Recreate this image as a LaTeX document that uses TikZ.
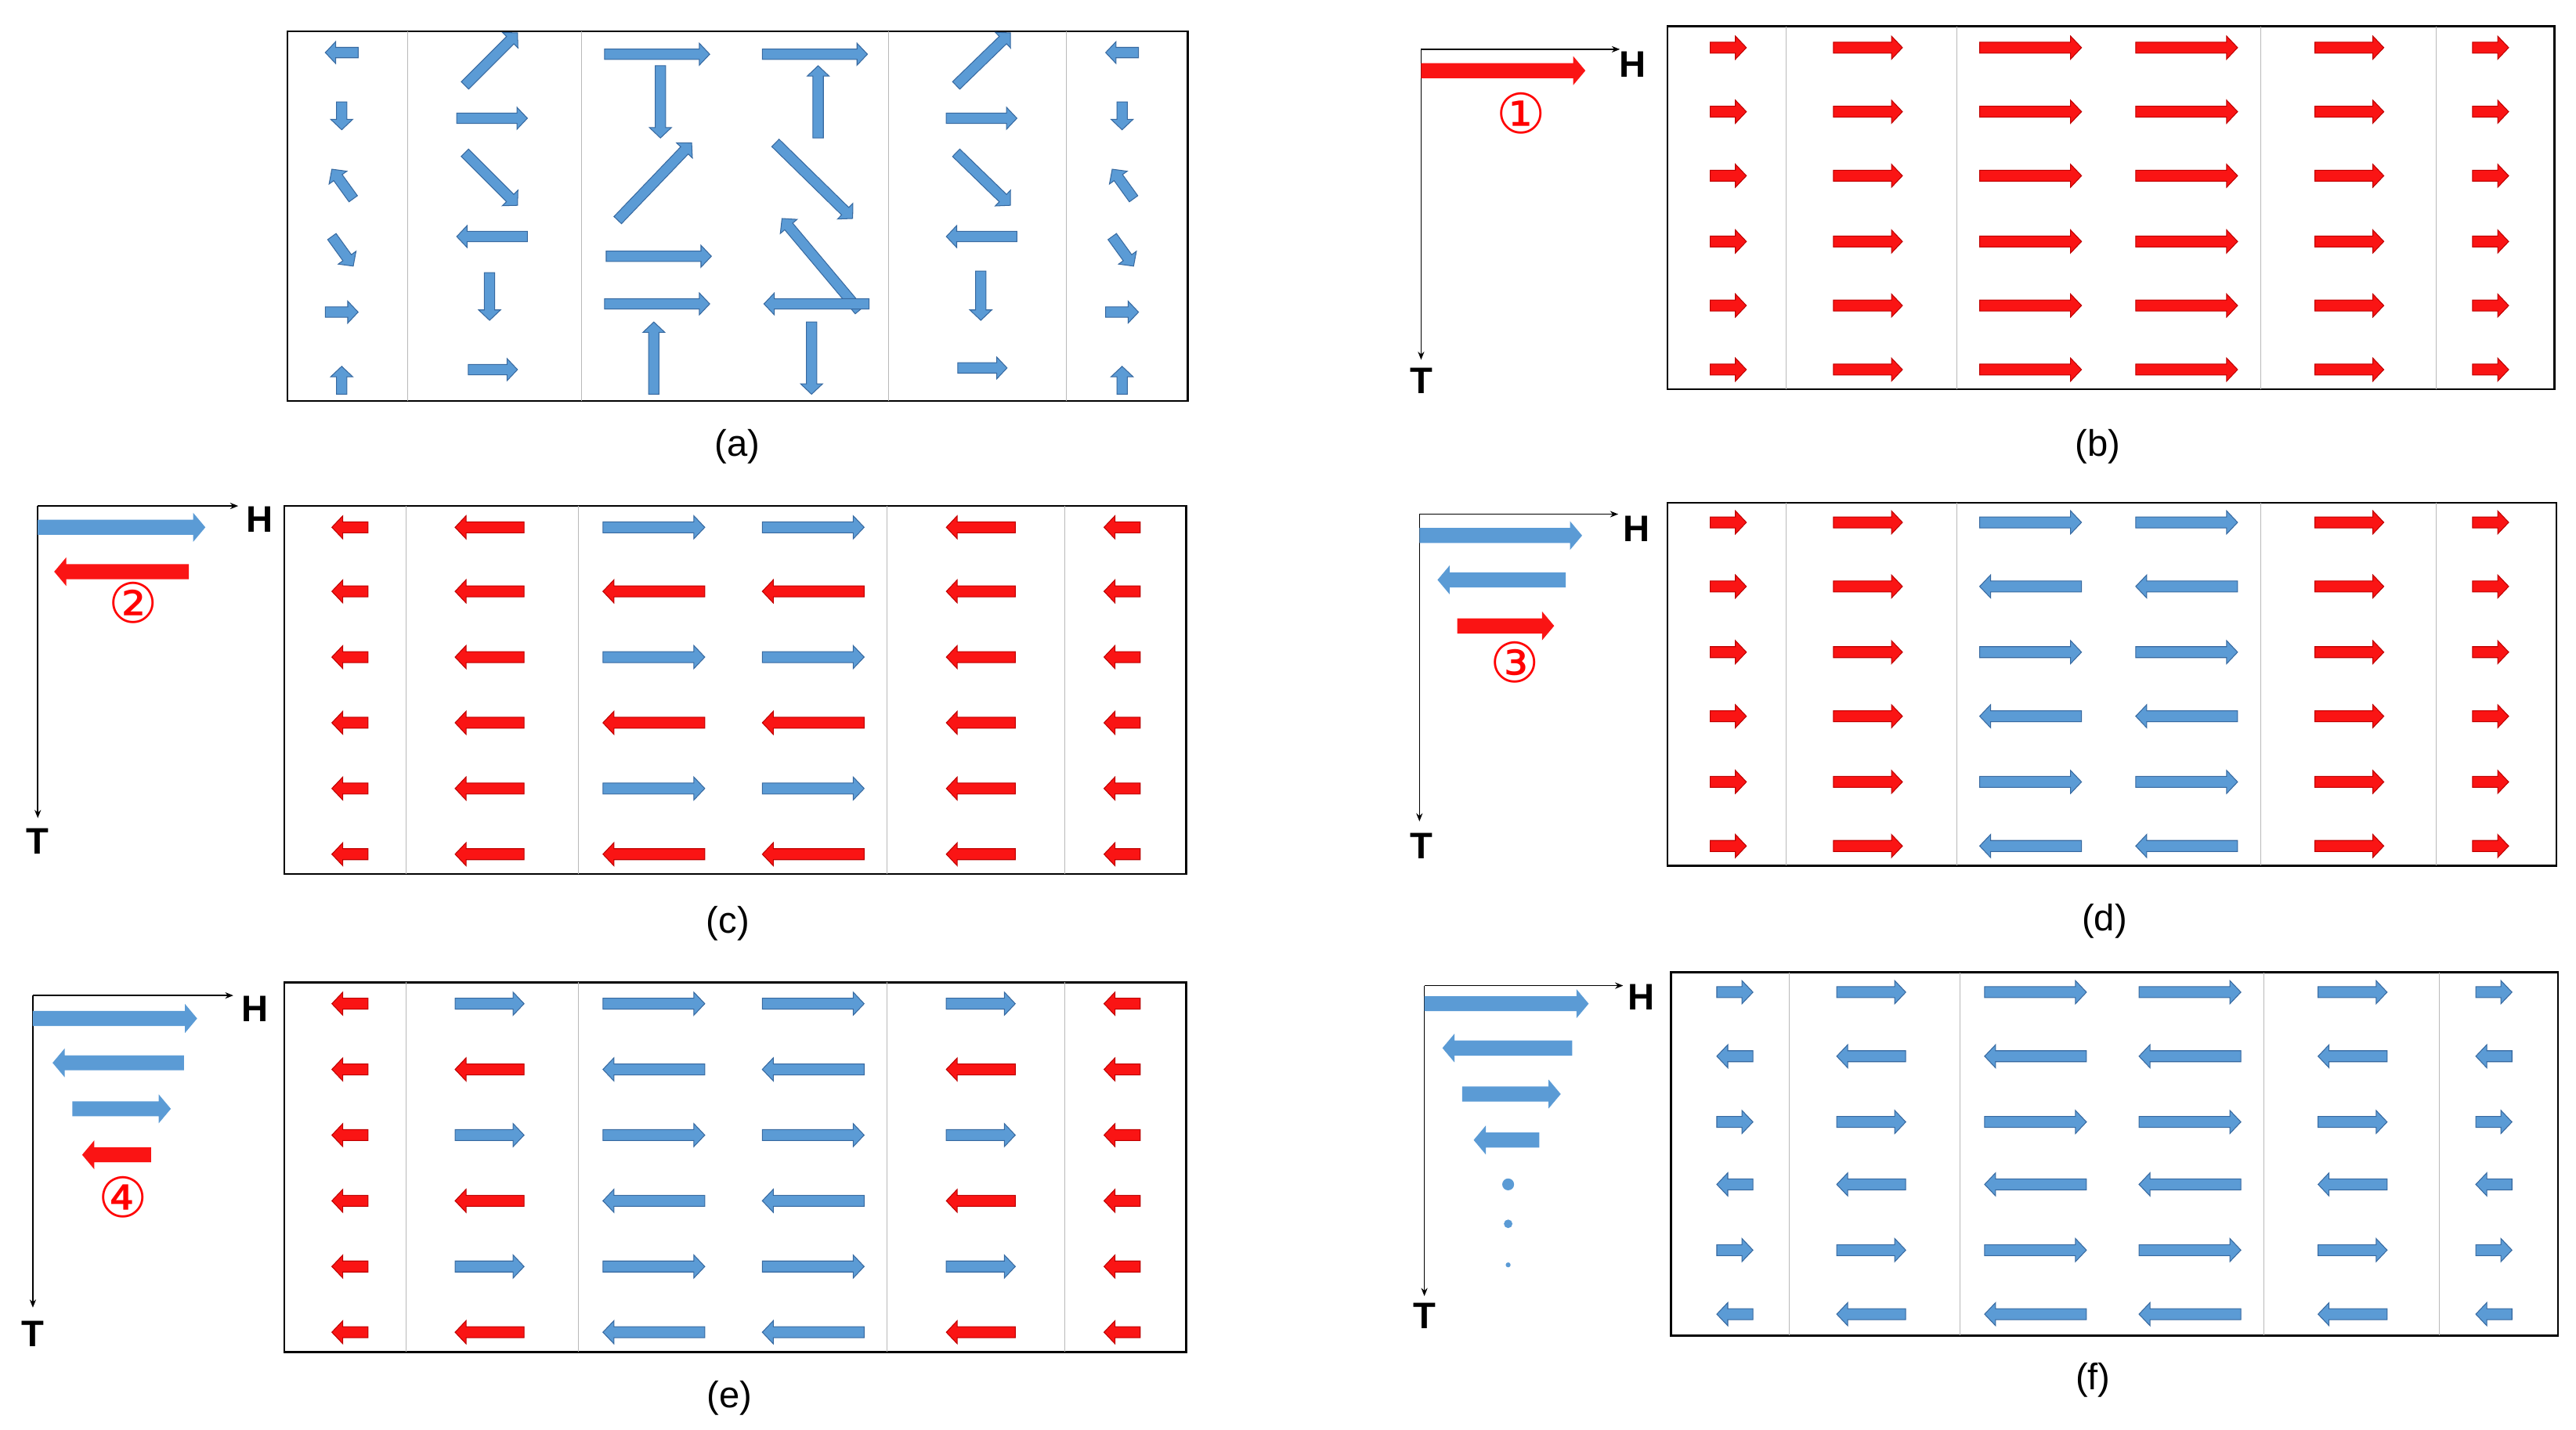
\documentclass[tikz,border=0pt]{standalone}
\usepackage{fontspec}
\setmainfont{Liberation Sans}
\newfontfamily\djv{DejaVu Sans}
\usetikzlibrary{arrows.meta}
\definecolor{abl}{RGB}{91,155,213}
\definecolor{abd}{RGB}{55,105,160}
\definecolor{ard}{RGB}{250,20,20}
\definecolor{ardd}{RGB}{190,0,0}
\newcommand\genarr[8]{%
 \pgfmathsetmacro\aang{atan2(-((#8)-(#6)),(#7)-(#5))}%
 \pgfmathsetmacro\alen{veclen((#7)-(#5),(#8)-(#6))*2.84528}%
 \pgfmathsetmacro\ab{\alen-#3}%
 \begin{scope}[shift={({#5},{#6})},rotate=\aang]
 \path[#4] (0pt,-#1pt)--(\ab pt,-#1pt)--(\ab pt,-#2pt)--(\alen pt,0pt)--(\ab pt,#2pt)--(\ab pt,#1pt)--(0pt,#1pt)--cycle;
 \end{scope}}
\newcommand\arr[5]{\genarr{9}{19}{18}{#1}{#2}{#3}{#4}{#5}}
\newcommand\harr[5]{\genarr{9.5}{20}{19}{#1}{(#2)-(#5)*(#4)}{#3}{(#2)+(#5)*(#4)}{#3}}
\newcommand\larr[5]{\genarr{13}{25}{21}{#1}{#2}{#3}{#4}{#5}}
\begin{document}
\begin{tikzpicture}[x=1mm,y=-1mm,
 bl/.style={fill=abl,draw=abd,line width=1.4pt},
 rd/.style={fill=ard,draw=ardd,line width=1.4pt},
 blL/.style={fill=abl},
 rdL/.style={fill=ard},
 box/.style={draw=black,line width=3.5pt},
 div/.style={draw=gray!55,line width=1.5pt},
 ax/.style={draw=black,line width=2.2pt,-{Stealth[length=14pt,width=11pt]}},
 lab/.style={font=\fontsize{64}{70}\selectfont},
 ht/.style={font=\fontsize{64}{70}\selectfont\bfseries},
 num/.style={text=red,font=\djv\fontsize{96}{100}\selectfont}]
\useasboundingbox[fill=white] (0,0) rectangle (1568,870.5);
% ---------- (a)
\draw[box] (175,19) rectangle (723,244);
\foreach \x in {248,354,541,649} \draw[div] (\x,19) -- (\x,244);
\arr{bl}{218}{32}{198}{32} \arr{bl}{208}{62}{208}{79} \arr{bl}{215}{121}{202}{103}
\arr{bl}{202}{144}{215}{162} \arr{bl}{198}{190}{218}{190} \arr{bl}{208}{240}{208}{223}
\arr{bl}{283}{52}{315}{20} \arr{bl}{278}{72}{321}{72} \arr{bl}{283}{93}{315}{125}
\arr{bl}{321}{144}{278}{144} \arr{bl}{298}{166}{298}{195} \arr{bl}{285}{225}{315}{225}
\arr{bl}{368}{33}{432}{33} \arr{bl}{402}{40}{402}{84} \arr{bl}{376}{134}{421}{87}
\arr{bl}{369}{156}{433}{156} \arr{bl}{368}{185}{432}{185} \arr{bl}{398}{240}{398}{196}
\arr{bl}{464}{33}{528}{33} \arr{bl}{498}{84}{498}{40} \arr{bl}{472}{87}{519}{133}
\arr{bl}{523}{189}{476}{133} \arr{bl}{529}{185}{465}{185} \arr{bl}{494}{196}{494}{240}
\arr{bl}{582}{52}{615}{20} \arr{bl}{576}{72}{619}{72} \arr{bl}{582}{93}{615}{125}
\arr{bl}{619}{144}{576}{144} \arr{bl}{597}{165}{597}{195} \arr{bl}{583}{224}{613}{224}
\arr{bl}{693}{32}{673}{32} \arr{bl}{683}{62}{683}{79} \arr{bl}{690}{121}{677}{103}
\arr{bl}{677}{144}{690}{162} \arr{bl}{673}{190}{693}{190} \arr{bl}{683}{240}{683}{223}
\node[lab] (la) at (449,272) {(a)};
% ---------- (b)
\draw[box] (1015,16) rectangle (1555,237);
\foreach \x in {1087,1191,1376,1483} \draw[div] (\x,16) -- (\x,237);
\foreach \y in {29,68,107,147,186,225}
 \foreach \c/\h in {1052/11,1137/21,1236/31,1331/31,1430/21,1516/11} {\harr{rd}{\c}{\y}{\h}{1}}
\coordinate (bO) at (865,30); \coordinate (bH) at (986,30); \coordinate (bT) at (865,219);
\draw[ax] (bO) -- (bH); \draw[ax] (bO) -- (bT);
\node[ht] (bh) at (994,39) {H}; \node[ht] (bt) at (865,232) {T};
\larr{rdL}{865}{43}{965}{43}
\node[num] (bn) at (926,69) {①};
\node[lab] (lb) at (1277,272) {(b)};
% ---------- (c)
\draw[box] (173,308) rectangle (722,532);
\foreach \x in {247,352,540,648} \draw[div] (\x,308) -- (\x,532);
\foreach \y [count=\i] in {321,360,400,440,480,520}{
 \foreach \c/\h in {213/11,298/21,597/21,683/11} {\harr{rd}{\c}{\y}{\h}{-1}}
 \foreach \c in {398,495} {\ifodd\i \harr{bl}{\c}{\y}{31}{1}\else \harr{rd}{\c}{\y}{31}{-1}\fi}}
\coordinate (cO) at (23,308); \coordinate (cH) at (145,308); \coordinate (cT) at (23,498);
\draw[ax] (cO) -- (cH); \draw[ax] (cO) -- (cT);
\node[ht] (ch) at (158,316) {H}; \node[ht] (ct) at (23,512) {T};
\larr{blL}{23}{321}{125}{321} \larr{rdL}{115}{348}{33}{348}
\node[num] (cn) at (81,367) {②};
\node[lab] (lc) at (443,562) {(c)};
% ---------- (d)
\draw[box] (1015,306) rectangle (1556,527);
\foreach \x in {1087,1191,1376,1483} \draw[div] (\x,306) -- (\x,527);
\foreach \y [count=\i] in {318,357,397,436,476,515}{
 \foreach \c/\h in {1052/11,1137/21,1430/21,1516/11} {\harr{rd}{\c}{\y}{\h}{1}}
 \foreach \c in {1236,1331} {\ifodd\i \harr{bl}{\c}{\y}{31}{1}\else \harr{bl}{\c}{\y}{31}{-1}\fi}}
\coordinate (dO) at (864,313); \coordinate (dH) at (985,313); \coordinate (dT) at (864,500);
\draw[ax] (dO) -- (dH); \draw[ax] (dO) -- (dT);
\node[ht] (dh) at (996,322) {H}; \node[ht] (dt) at (865,515) {T};
\larr{blL}{864}{326}{963}{326} \larr{blL}{953}{353}{875}{353} \larr{rdL}{887}{381}{946}{381}
\node[num] (dn) at (922,403) {③};
\node[lab] (ld) at (1281,561) {(d)};
% ---------- (e)
\draw[box] (173,598) rectangle (722,823);
\foreach \x in {247,352,540,648} \draw[div] (\x,598) -- (\x,823);
\foreach \y [count=\i] in {611,651,691,731,771,811}{
 \foreach \c in {213,683} {\harr{rd}{\c}{\y}{11}{-1}}
 \foreach \c in {298,597} {\ifodd\i \harr{bl}{\c}{\y}{21}{1}\else \harr{rd}{\c}{\y}{21}{-1}\fi}
 \foreach \c in {398,495} {\ifodd\i \harr{bl}{\c}{\y}{31}{1}\else \harr{bl}{\c}{\y}{31}{-1}\fi}}
\coordinate (eO) at (20,606); \coordinate (eH) at (142,606); \coordinate (eT) at (20,796);
\draw[ax] (eO) -- (eH); \draw[ax] (eO) -- (eT);
\node[ht] (eh) at (155,614) {H}; \node[ht] (et) at (20,812) {T};
\larr{blL}{20}{620}{120}{620} \larr{blL}{112}{647}{32}{647} \larr{blL}{44}{675}{104}{675} \larr{rdL}{92}{703}{50}{703}
\node[num] (en) at (75,729) {④};
\node[lab] (le) at (444,851) {(e)};
% ---------- (f)
\draw[box] (1017,592) rectangle (1557,813);
\foreach \x in {1089,1193,1378,1485} \draw[div] (\x,592) -- (\x,813);
\foreach \y [count=\i] in {604,643,683,721,761,800}{
 \foreach \c/\h in {1056/11,1139/21,1239/31,1333/31,1432/21,1518/11}
  {\ifodd\i \harr{bl}{\c}{\y}{\h}{1}\else \harr{bl}{\c}{\y}{\h}{-1}\fi}}
\coordinate (fO) at (867,600); \coordinate (fH) at (988,600); \coordinate (fT) at (867,789);
\draw[ax] (fO) -- (fH); \draw[ax] (fO) -- (fT);
\node[ht] (fh) at (999,607) {H}; \node[ht] (ft) at (867,801) {T};
\larr{blL}{867}{611}{967}{611} \larr{blL}{957}{638}{878}{638} \larr{blL}{890}{666}{950}{666} \larr{blL}{937}{694}{897}{694}
\fill[abl] (918,721) circle[radius=3.6] (918,745) circle[radius=2.6] (918,770) circle[radius=1.5];
\node[lab] (lf) at (1274,840) {(f)};
\end{tikzpicture}
\end{document}
